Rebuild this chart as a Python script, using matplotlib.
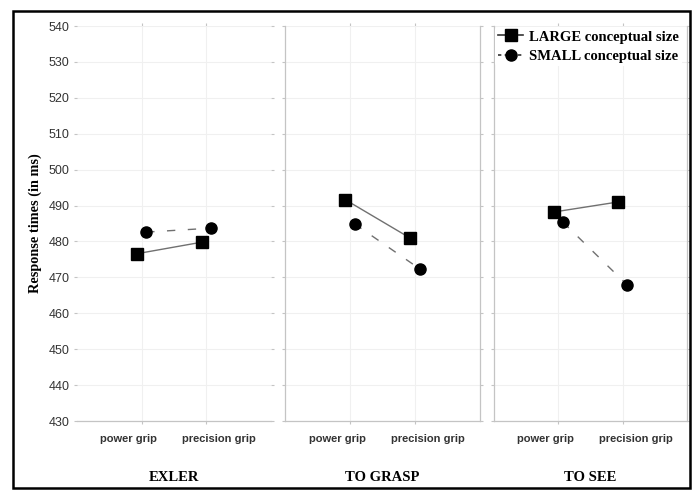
import matplotlib.pyplot as plt
from matplotlib.lines import Line2D
from matplotlib.patches import Rectangle

# values (ms)
conditions = ["EXLER", "TO GRASP", "TO SEE"]
grips = ["power grip", "precision grip"]
large = [[476.6, 479.8], [491.6, 480.9], [488.2, 491.0]]
small = [[482.6, 483.7], [484.9, 472.4], [485.4, 467.9]]
yticks = list(range(430, 541, 10))

W, H = 697, 490
fig = plt.figure(figsize=(W / 100, H / 100), dpi=100)

SERIF = "Liberation Serif"
SANS = "Liberation Sans"
SPINE = "#c4c4c4"
GRID = "#f0f0f0"
LINE = "#707070"

# axes boxes in pixels: (left, right)
boxes = [(77, 271), (285, 480), (494, 687)]
top_px, bot_px = 26, 421

axes = []
for i, (l, r) in enumerate(boxes):
    ax = fig.add_axes([l / W, 1 - bot_px / H, (r - l) / W, (bot_px - top_px) / H])
    axes.append(ax)
    x = [0, 1]
    ax.plot([xi - 0.07 for xi in x], large[i], color=LINE, lw=1.0, ls="-",
            marker="s", ms=8, mfc="black", mec="black", zorder=3)
    ax.plot([xi + 0.07 for xi in x], small[i], color=LINE, lw=1.0, ls=(0, (6, 9)),
            marker="o", ms=8, mfc="black", mec="black", zorder=3)
    ax.set_xlim(-1, 2)
    ax.set_ylim(430, 540)
    ax.set_yticks(yticks)
    ax.set_xticks(x)
    ax.set_xticklabels([])
    # grip labels sit a bit outward of the tick marks
    ax.set_xticks([-0.2, 1.2], minor=True)
    ax.set_xticklabels(grips, minor=True, fontsize=8, fontweight="bold",
                       family=SANS, color="#333333")
    ax.tick_params(axis="x", which="minor", length=0, pad=9)
    ax.grid(True, color=GRID, lw=0.8)
    ax.set_axisbelow(True)
    ax.tick_params(axis="both", which="major", length=2.5, color=SPINE, direction="out",
                   left=True, right=True, top=True, bottom=True, pad=3)
    ax.tick_params(axis="y", labelsize=9, labelcolor="#333333")
    for sp in ax.spines.values():
        sp.set_color(SPINE)
        sp.set_linewidth(0.9)
    ax.spines["top"].set_visible(False)
    if i == 0:
        ax.spines["left"].set_visible(False)
        ax.spines["right"].set_visible(False)
        for t in ax.get_yticklabels():
            t.set_family(SANS)
    else:
        ax.tick_params(axis="y", labelleft=False)
    ax.text(0.5, 1 - (477 - top_px) / (bot_px - top_px), conditions[i],
            transform=ax.transAxes, ha="center", va="center",
            fontsize=10.5, fontweight="bold", family=SERIF)

fig.text(35 / W, 1 - 223 / H, "Response times (in ms)", rotation=90,
         ha="center", va="center", fontsize=10.3, fontweight="bold", family=SERIF)

handles = [
    Line2D([], [], color="#333333", lw=1.2, ls="-", marker="s", ms=8,
           mfc="black", mec="black"),
    Line2D([], [], color="#333333", lw=1.2, ls=(0, (2, 2)), marker="o", ms=8,
           mfc="black", mec="black"),
]
leg = axes[2].legend(handles, ["LARGE conceptual size", "SMALL conceptual size"],
                     loc="upper left", bbox_to_anchor=(0.0, 1.0), borderaxespad=0.1,
                     frameon=True, facecolor="white", edgecolor="none", framealpha=1,
                     handlelength=1.7, handletextpad=0.4, labelspacing=0.45,
                     borderpad=0.2,
                     prop={"family": SERIF, "weight": "bold", "size": 10.5})

# outer frame
fig.patches.append(Rectangle((13 / W, 1 - 488 / H), (690 - 13) / W, (488 - 11) / H,
                             transform=fig.transFigure, fill=False,
                             edgecolor="black", lw=1.8))

fig.savefig("out.png", dpi=100)
